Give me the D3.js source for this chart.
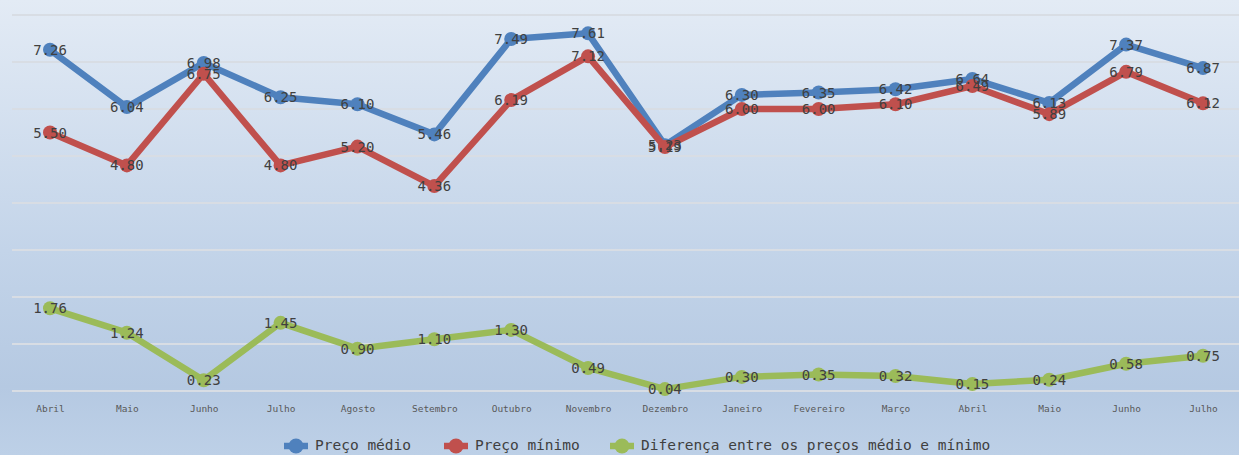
<!DOCTYPE html>
<html>
<head>
<meta charset="utf-8">
<script src="https://cdn.jsdelivr.net/npm/d3@7"></script>
<style>
html,body{margin:0;padding:0;}
svg{display:block;}
</style>
</head>
<body>
<svg id="chart" width="1239" height="455"></svg>
<script>
const months = ["Abril","Maio","Junho","Julho","Agosto","Setembro","Outubro","Novembro","Dezembro","Janeiro","Fevereiro","Março","Abril","Maio","Junho","Julho"];
const precoMedio = [7.26,6.04,6.98,6.25,6.10,5.46,7.49,7.61,5.23,6.30,6.35,6.42,6.64,6.13,7.37,6.87];
const precoMinimo = [5.50,4.80,6.75,4.80,5.20,4.36,6.19,7.12,5.19,6.00,6.00,6.10,6.49,5.89,6.79,6.12];
const diferenca = [1.76,1.24,0.23,1.45,0.90,1.10,1.30,0.49,0.04,0.30,0.35,0.32,0.15,0.24,0.58,0.75];
const seriesNames = ["Preço médio","Preço mínimo","Diferença entre os preços médio e mínimo"];
const yTicks = [0,1,2,3,4,5,6,7,8];

const colors = ["#4f81bd","#c0504d","#9bbb59"];
const W = 1239, H = 455;
const svg = d3.select("#chart");
const defs = svg.append("defs");
const grad = defs.append("linearGradient").attr("id","bg").attr("x1",0).attr("y1",0).attr("x2",0).attr("y2",1);
grad.append("stop").attr("offset","0%").attr("stop-color","#e3ebf5");
grad.append("stop").attr("offset","55%").attr("stop-color","#c3d4e9");
grad.append("stop").attr("offset","85%").attr("stop-color","#b5c9e2");
grad.append("stop").attr("offset","100%").attr("stop-color","#bdd0e7");
svg.append("rect").attr("width",W).attr("height",H).attr("fill","url(#bg)");

const x = d3.scalePoint().domain(d3.range(months.length)).range([50,1203]);
const y = d3.scaleLinear().domain([0,8]).range([391,15]);

const mono = "'DejaVu Sans Mono', monospace";

// gridlines
svg.append("g").selectAll("line").data(yTicks).join("line")
  .attr("x1",12).attr("x2",1239)
  .attr("y1",d=>y(d)).attr("y2",d=>y(d))
  .attr("stroke","#d8dde4").attr("stroke-width",2);

// x axis labels
const xAxis = d3.axisBottom(x).tickSize(0).tickFormat(i=>months[i]);
const ax = svg.append("g").attr("transform","translate(0,405)").call(xAxis);
ax.select(".domain").remove();
ax.selectAll("text").attr("font-family",mono).attr("font-size","9.5px").attr("fill","#595959").attr("dy","0.71em").attr("y",0);

const allSeries = [precoMedio, precoMinimo, diferenca];
const line = d3.line().x((d,i)=>x(i)).y(d=>y(d));
allSeries.forEach((s,k)=>{
  const g = svg.append("g");
  g.append("path").datum(s).attr("d",line).attr("fill","none")
    .attr("stroke",colors[k]).attr("stroke-width",6.5).attr("stroke-linejoin","round");
  g.selectAll("circle").data(s).join("circle")
    .attr("cx",(d,i)=>x(i)).attr("cy",d=>y(d)).attr("r",7).attr("fill",colors[k]);
});
allSeries.forEach((s,k)=>{
  svg.append("g").selectAll("text").data(s).join("text")
    .attr("x",(d,i)=>x(i)).attr("y",d=>y(d)+1)
    .attr("text-anchor","middle").attr("dominant-baseline","middle")
    .attr("font-family",mono).attr("font-size","14px").attr("fill","#404040")
    .text(d=>d.toFixed(2));
});

// legend
const legendX = [296, 456, 622];
const lg = svg.append("g");
seriesNames.forEach((n,k)=>{
  const cx = legendX[k];
  lg.append("line").attr("x1",cx-12).attr("x2",cx+12).attr("y1",446).attr("y2",446)
    .attr("stroke",colors[k]).attr("stroke-width",6.5);
  lg.append("circle").attr("cx",cx).attr("cy",446).attr("r",7.5).attr("fill",colors[k]);
  lg.append("text").attr("x",cx+19).attr("y",446).attr("dominant-baseline","middle")
    .attr("font-family",mono).attr("font-size","14.5px").attr("fill","#404040").text(n);
});
</script>
</body>
</html>
